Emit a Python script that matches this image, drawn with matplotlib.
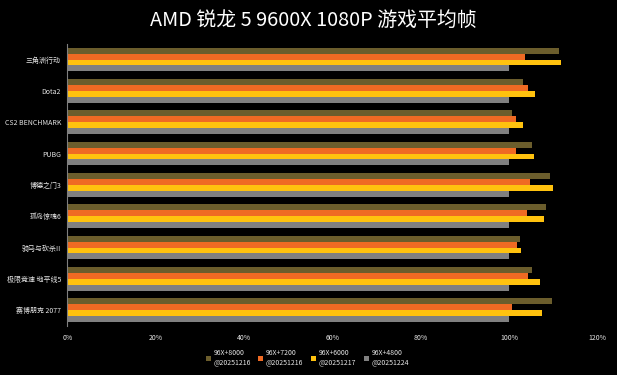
import numpy as np
import matplotlib
matplotlib.use("Agg")
import matplotlib.pyplot as plt

plt.rcParams["font.family"] = ["Noto Sans CJK SC", "DejaVu Sans"]

# ── Data ──────────────────────────────────────────────────────────────────────
games = ["三角洲行动", "Dota2", "CS2 BENCHMARK", "PUBG", "博德之门3",
         "孤岛惊魂6", "骑马与砍杀II", "极限竞速 地平线5", "赛博朋克 2077"]
series_labels = ["96X+8000\n@20251216", "96X+7200\n@20251216",
                 "96X+6000\n@20251217", "96X+4800\n@20251224"]
ddr8000 = [111.3, 103.3, 100.8, 105.3, 109.4, 108.5, 102.6, 105.3, 109.7]
ddr7200 = [103.6, 104.3, 101.6, 101.6, 104.8, 104.0, 101.9, 104.4, 100.8]
ddr6000 = [111.8, 106.0, 103.3, 105.6, 109.9, 107.9, 102.8, 107.1, 107.4]
ddr4800 = [100, 100, 100, 100, 100, 100, 100, 100, 100]
x_ticks = [0, 20, 40, 60, 80, 100, 120]

COLORS = ["#6b5d2c", "#ef6a23", "#ffc20e", "#808080"]
TXT = "#e6e6e6"

fig = plt.figure(figsize=(6.17, 3.75), dpi=100, facecolor="black")
ax = fig.add_axes([0.109, 0.131, 0.859, 0.752], facecolor="black")

y = np.arange(len(games))
bh = 0.19
all_series = [ddr8000, ddr7200, ddr6000, ddr4800]
for i, (vals, col, lab) in enumerate(zip(all_series, COLORS, series_labels)):
    ax.barh(y + (i - 1.5) * bh, vals, height=bh, color=col, label=lab)

ax.set_ylim(len(games) - 0.5, -0.5)
ax.set_xlim(0, 120)
ax.set_yticks(y)
ax.set_yticklabels(games, color=TXT, fontsize=5)
ax.set_xticks(x_ticks)
ax.set_xticklabels([f"{t}%" for t in x_ticks], color=TXT, fontsize=5)
ax.tick_params(axis="y", length=0, pad=4.5)
ax.tick_params(axis="x", length=0, pad=6)
for s in ["top", "right", "bottom"]:
    ax.spines[s].set_visible(False)
ax.spines["left"].set_color("#7f7f7f")
ax.spines["left"].set_linewidth(0.8)

fig.text(0.508, 0.945, "AMD 锐龙 5 9600X 1080P 游戏平均帧", color="white",
         fontsize=14.3, ha="center", va="center")

leg = fig.legend(*ax.get_legend_handles_labels(), loc="upper center",
                 bbox_to_anchor=(0.498, 0.085), ncol=4,
                 frameon=False, fontsize=5, labelcolor=TXT,
                 handlelength=0.7, handleheight=0.7, columnspacing=1.1,
                 handletextpad=0.4)

plt.savefig("out.png", dpi=100, facecolor="black")
